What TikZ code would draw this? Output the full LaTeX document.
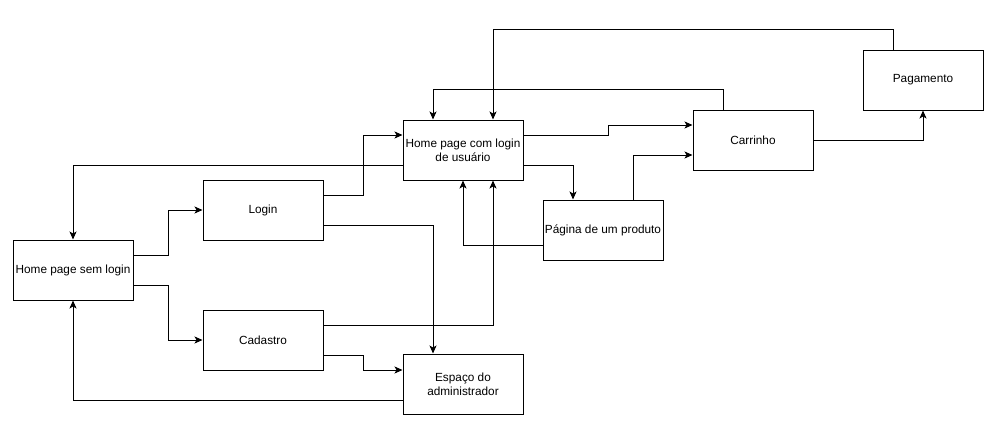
\documentclass[tikz,border=0pt]{standalone}
\usepackage{fontspec}
\setmainfont{Liberation Sans}
\usetikzlibrary{arrows.meta}
\begin{document}
\begin{tikzpicture}[x=1pt,y=-1pt,
  box/.style={draw,line width=1pt,minimum width=120pt,minimum height=60pt,inner sep=0pt,align=center,font=\fontsize{11.8}{14}\selectfont},
  arr/.style={draw,line width=1pt,-{Stealth[length=8pt,width=7pt,inset=2pt]}},
  ln/.style={draw,line width=1pt}]
\useasboundingbox (0,0) rectangle (1002,437);
\node[box] (hs) at (73,270) {Home page sem login};
\node[box] (login) at (263,210) {Login};
\node[box] (cad) at (263,340) {Cadastro};
\node[box] (hc) at (463,150) {Home page com login\\de usuário};
\node[box] (esp) at (463,384) {Espaço do\\administrador};
\node[box] (pag) at (603,230) {Página de um produto};
\node[box] (car) at (753,140) {Carrinho};
\node[box] (paga) at (923,80) {Pagamento};
\draw[arr] ([yshift=15pt]hs.east) -- ++(35pt,0) |- (login.west);
\draw[arr] ([yshift=-15pt]hs.east) -- ++(35pt,0) |- (cad.west);
\draw[arr] ([yshift=15pt]login.east) -- ++(40pt,0) |- ([yshift=15pt]hc.west);
\draw[arr] ([yshift=-15pt]login.east) -| ([xshift=-30pt]esp.north);
\draw[arr] ([yshift=15pt]cad.east) -| ([xshift=30pt]hc.south);
\draw[arr] ([yshift=-15pt]cad.east) -- ++(40pt,0) |- ([yshift=14pt]esp.west);
\draw[arr] ([yshift=-16pt]esp.west) -| (hs.south);
\draw[arr] ([yshift=-15pt]hc.west) -| (hs.north);
\draw[arr] ([yshift=15pt]hc.east) -- ++(85pt,0) |- ([yshift=15pt]car.west);
\draw[arr] ([yshift=-15pt]hc.east) -| ([xshift=-30pt]pag.north);
\draw[arr] ([yshift=-15pt]pag.west) -| (hc.south);
\draw[arr] ([xshift=30pt]pag.north) |- ([yshift=-15pt]car.west);
\draw[arr] ([xshift=-30pt]car.north) -- ++(0,20pt) -| ([xshift=-30pt]hc.north);
\draw[arr] (car.east) -| (paga.south);
\draw[arr] ([xshift=-30pt]paga.north) -- ++(0,20pt) -| ([xshift=30pt]hc.north);
\end{tikzpicture}
\end{document}
